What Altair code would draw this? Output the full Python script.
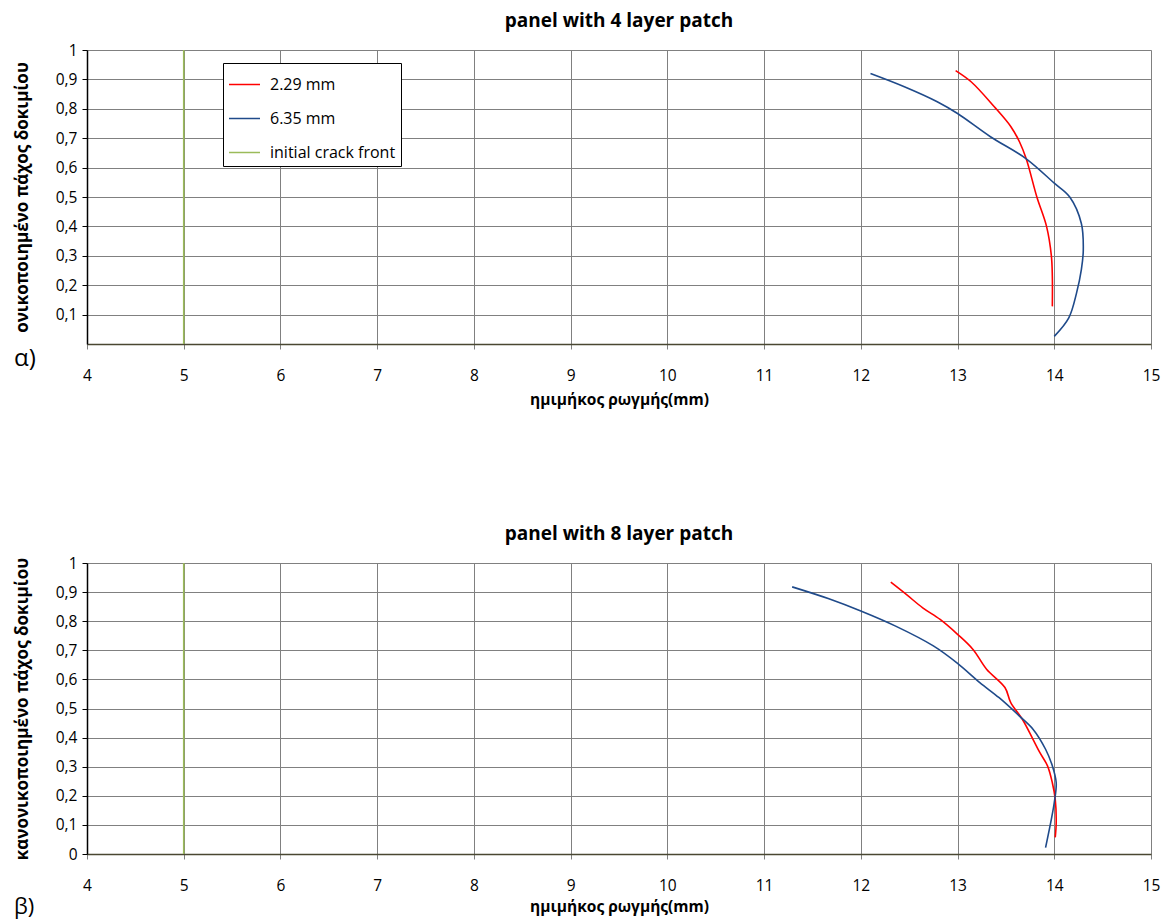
import altair as alt
import pandas as pd

# ---------------- data ----------------
series_names = ["2.29 mm", "6.35 mm", "initial crack front"]
series_colors = ["#FF0000", "#1F4A8A", "#9BBB59"]

# panel with 4 layer patch
red4_x = [12.98, 13.14, 13.38, 13.55, 13.64, 13.71, 13.82, 13.92, 13.97, 13.98, 13.98]
red4_y = [0.93, 0.892, 0.807, 0.74, 0.688, 0.63, 0.50, 0.40, 0.30, 0.23, 0.128]
blue4_x = [12.10, 12.45, 12.79, 13.0, 13.34, 13.71, 14.0, 14.16, 14.28, 14.30, 14.28, 14.23, 14.15, 14.0]
blue4_y = [0.92, 0.875, 0.824, 0.784, 0.705, 0.63, 0.547, 0.50, 0.41, 0.32, 0.253, 0.173, 0.089, 0.026]

# panel with 8 layer patch
red8_x = [12.31, 12.47, 12.64, 12.82, 13.0, 13.16, 13.30, 13.49, 13.55, 13.67, 13.78, 13.85, 13.93, 13.98, 14.01, 14.02, 14.01]
red8_y = [0.934, 0.892, 0.846, 0.806, 0.755, 0.703, 0.635, 0.572, 0.52, 0.463, 0.394, 0.349, 0.303, 0.245, 0.188, 0.108, 0.057]
blue8_x = [11.29, 11.67, 12.0, 12.36, 12.75, 13.0, 13.23, 13.43, 13.64, 13.78, 13.91, 13.98, 14.02, 14.0, 13.97, 13.91]
blue8_y = [0.918, 0.877, 0.835, 0.783, 0.715, 0.655, 0.589, 0.537, 0.474, 0.429, 0.36, 0.303, 0.245, 0.177, 0.12, 0.022]

# initial crack front
crack_x = [5, 5]
crack_y = [0, 1]

x_ticks = [4, 5, 6, 7, 8, 9, 10, 11, 12, 13, 14, 15]
y_ticks_top = [0.1, 0.2, 0.3, 0.4, 0.5, 0.6, 0.7, 0.8, 0.9, 1]
y_ticks_bottom = [0, 0.1, 0.2, 0.3, 0.4, 0.5, 0.6, 0.7, 0.8, 0.9, 1]

titles = ["panel with 4 layer patch", "panel with 8 layer patch"]
y_titles = ["ονικοποιημένο πάχος δοκιμίου", "κανονικοποιημένο πάχος δοκιμίου"]
x_title = "ημιμήκος ρωγμής(mm)"
panel_labels = ["α)", "β)"]

FONT = "Open Sans"


def build_df(rx, ry, bx, by):
    rows = []
    for name, xs, ys in [(series_names[0], rx, ry), (series_names[1], bx, by), (series_names[2], crack_x, crack_y)]:
        for i, (xv, yv) in enumerate(zip(xs, ys)):
            rows.append({"x": xv, "y": yv, "series": name, "idx": i})
    return pd.DataFrame(rows)


def panel(df, title, ytitle, yticks, label, label_size, width, height, label_y, lab_pad, xtitle_y, legend_x, legend_y):
    base = alt.Chart(df)
    lines = base.mark_line(strokeWidth=1.6, interpolate="catmull-rom").encode(
        x=alt.X(
            "x:Q",
            scale=alt.Scale(domain=[4, 15], nice=False, zero=False),
            axis=alt.Axis(
                values=x_ticks,
                title=x_title,
                titleFontWeight="bold",
                titleFontSize=15.5,
                titleFont=FONT,
                titleY=xtitle_y,
                titleBaseline="middle",
                labelFontSize=15.5,
                labelFont=FONT,
                labelPadding=lab_pad,
                labelColor="#000000",
                titleColor="#000000",
                tickSize=5,
                tickColor="#808080",
                domainColor="#4a4732",
                domainWidth=1.5,
                gridColor="#808080",
                gridWidth=1,
                labelFlush=False,
            ),
        ),
        y=alt.Y(
            "y:Q",
            scale=alt.Scale(domain=[0, 1], nice=False),
            axis=alt.Axis(
                values=yticks,
                title=ytitle,
                titleFontWeight="bold",
                titleFontSize=17,
                titleFont=FONT,
                titleX=-65,
                titleY=height / 2,
                titleAngle=270,
                titleAlign="center",
                titleBaseline="middle",
                labelExpr="replace(toString(datum.value), '.', ',')",
                labelFontSize=15.5,
                labelFont=FONT,
                labelPadding=5,
                labelColor="#000000",
                titleColor="#000000",
                tickSize=5,
                tickColor="#000000",
                domainColor="#000000",
                domainWidth=1.5,
                gridColor="#808080",
                gridWidth=1,
                labelFlush=False,
            ),
        ),
        color=alt.Color(
            "series:N",
            scale=alt.Scale(domain=series_names, range=series_colors),
            legend=alt.Legend(
                title=None,
                orient="none",
                legendX=legend_x,
                legendY=legend_y,
                direction="vertical",
                symbolType="stroke",
                symbolSize=961,
                symbolStrokeWidth=1.5,
                labelFontSize=16,
                labelFont=FONT,
                labelColor="#000000",
                labelOffset=9,
                rowPadding=9,
                padding=5,
                strokeColor="#000000",
                fillColor="#ffffff",
            ),
        ),
        order=alt.Order("idx:Q"),
    )
    lab = alt.Chart(pd.DataFrame({"t": [label]})).mark_text(
        fontSize=label_size, font=FONT, align="left", baseline="middle", color="#000000"
    ).encode(text="t:N", x=alt.value(-73), y=alt.value(label_y))

    return alt.layer(lines, lab).properties(
        width=width,
        height=height,
        title=alt.TitleParams(
            title, fontSize=19, font=FONT, fontWeight="bold", anchor="middle", offset=12, color="#000000"
        ),
    )


df4 = build_df(red4_x, red4_y, blue4_x, blue4_y)
df8 = build_df(red8_x, red8_y, blue8_x, blue8_y)

top = panel(df4, titles[0], y_titles[0], y_ticks_top, panel_labels[0], 24, 1064, 294, 309, 19, 55, 136, 13)
bottom = panel(df8, titles[1], y_titles[1], y_ticks_bottom, panel_labels[1], 22, 1064, 291, 344, 19, 52, 136, 13)

chart = alt.vconcat(top, bottom, spacing=116).properties(
    padding={"left": 4, "top": 3, "right": 0, "bottom": 0}
).configure_view(stroke="#000000", strokeWidth=1.5).configure(background="white")

chart.save("out.html", embed_options={"renderer": "svg", "actions": False})
